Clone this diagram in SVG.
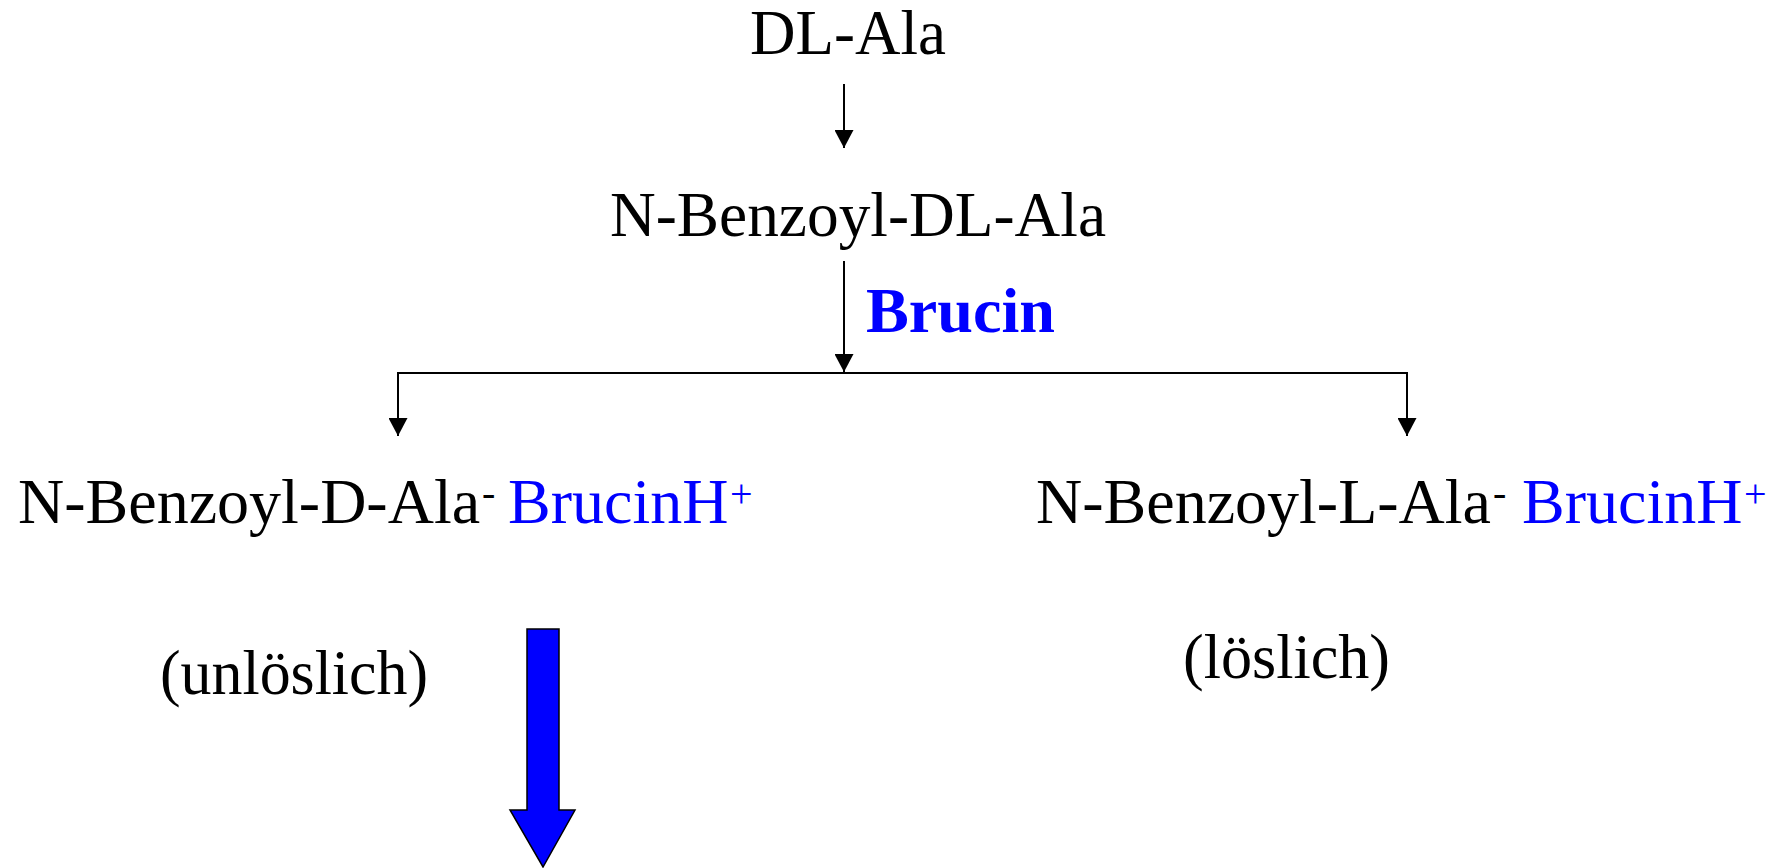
<svg xmlns="http://www.w3.org/2000/svg" width="1782" height="868" viewBox="0 0 1782 868">
<style>
text{font-family:"Liberation Serif","Times New Roman",serif;font-size:64px;fill:#000}
.b{fill:#0000FF}
.bold{font-weight:bold}
.sup{font-size:40px}
.ln{stroke:#000;stroke-width:2;fill:none}
</style>
<defs>
<marker id="ah" markerWidth="18" markerHeight="19" refX="18" refY="9.5" orient="auto" markerUnits="userSpaceOnUse">
<path d="M0,0 L18,9.5 L0,19 Z" fill="#000"/>
</marker>
</defs>
<rect width="1782" height="868" fill="#fff"/>
<g id="connectors">
<line class="ln" x1="844" y1="84" x2="844" y2="148" marker-end="url(#ah)"/>
<line class="ln" x1="844" y1="261" x2="844" y2="372" marker-end="url(#ah)"/>
<line class="ln" x1="398" y1="373" x2="1407" y2="373"/>
<line class="ln" x1="398" y1="372" x2="398" y2="436" marker-end="url(#ah)"/>
<line class="ln" x1="1407" y1="372" x2="1407" y2="436" marker-end="url(#ah)"/>
<path d="M527,629 L559,629 L559,810 L575,810 L543,867 L510,810 L527,810 Z" fill="#0000FF" stroke="#000" stroke-width="1.5"/>
</g>
<g id="n-dlala"><text x="750" y="54" textLength="196" lengthAdjust="spacingAndGlyphs">DL-Ala</text></g>
<g id="n-benzoyl"><text x="610" y="236" textLength="496" lengthAdjust="spacingAndGlyphs">N-Benzoyl-DL-Ala</text></g>
<g id="l-brucin"><text class="b bold" x="866" y="332" textLength="189" lengthAdjust="spacingAndGlyphs">Brucin</text></g>
<g id="n-d">
<text x="18" y="523">N-Benzoyl-D-Ala<tspan class="sup" x="482" y="506">-</tspan><tspan class="b" x="508" y="523">BrucinH</tspan><tspan class="b sup" x="730" y="507">+</tspan></text>
</g>
<g id="n-l">
<text x="1036" y="523">N-Benzoyl-L-Ala<tspan class="sup" x="1493" y="506">-</tspan><tspan class="b" x="1522" y="523">BrucinH</tspan><tspan class="b sup" x="1744" y="507">+</tspan></text>
</g>
<g id="t-unl"><text x="160" y="694" textLength="268" lengthAdjust="spacingAndGlyphs">(unlöslich)</text></g>
<g id="t-l"><text x="1183" y="678" textLength="207" lengthAdjust="spacingAndGlyphs">(löslich)</text></g>
</svg>
